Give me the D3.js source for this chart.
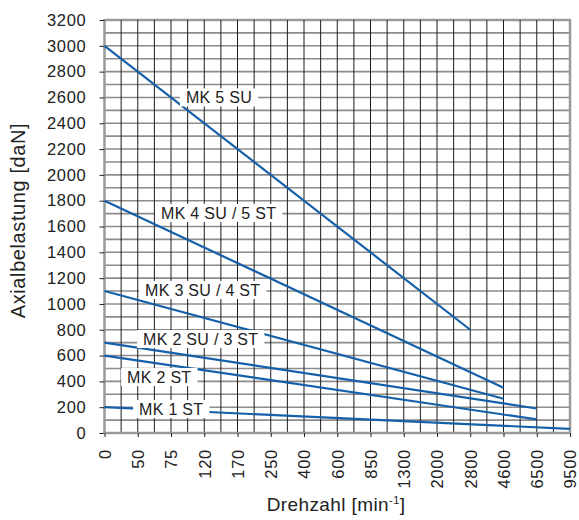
<!DOCTYPE html>
<html>
<head>
<meta charset="utf-8">
<script src="https://cdn.jsdelivr.net/npm/d3@7"></script>
<style>
  html, body { margin: 0; padding: 0; background: #fff; }
  svg { display: block; font-family: "Liberation Sans", Arial, Helvetica, sans-serif; }
</style>
</head>
<body>
<svg id="chart" width="579" height="520"></svg>
<script>
// ---- data ----
const categories = ["0","50","75","120","170","250","400","600","850","1300","2000","2800","4600","6500","9500"];
const yTicks = [0,200,400,600,800,1000,1200,1400,1600,1800,2000,2200,2400,2600,2800,3000,3200];
const seriesNames = ["MK 5 SU","MK 4 SU / 5 ST","MK 3 SU / 4 ST","MK 2 SU / 3 ST","MK 2 ST","MK 1 ST"];
const seriesX = [["0","2800"],["0","4600"],["0","4600"],["0","6500"],["0","6500"],["0","9500"]];
const seriesY = [[3000,800],[1800,350],[1100,265],[700,190],[600,105],[200,32]];
// label anchors (category index, value)
const labelIdx = [2.45,1.70,1.22,1.16,0.68,1.04];
const labelVal = [2600,1705,1108,728,434,186];

// ---- layout ----
const svg = d3.select("#chart");
const X0 = 104.5, X1 = 570, YT = 20, YB = 433;
const x = d3.scalePoint().domain(categories).range([X0, X1]);
const xi = d3.scaleLinear().domain([0, categories.length - 1]).range([X0, X1]);
const y = d3.scaleLinear().domain([0, 3200]).range([YB, YT]);

const grid = svg.append("g");
// horizontal gridlines every 100
grid.selectAll("line.h").data(d3.range(100, 3201, 100)).join("line")
  .attr("x1", X0).attr("x2", X1)
  .attr("y1", d => y(d)).attr("y2", d => y(d))
  .attr("stroke", d => d === 3200 ? "#9a9a9a" : "#8c8c8c")
  .attr("stroke-width", d => d === 3200 ? 2.5 : 1.6);
// vertical gridlines every half category step
grid.selectAll("line.v").data(d3.range(0.5, categories.length - 1, 0.5)).join("line")
  .attr("x1", d => xi(d)).attr("x2", d => xi(d))
  .attr("y1", YT).attr("y2", YB)
  .attr("stroke", "#1c1c1c").attr("stroke-width", 1);
// right border
grid.append("line").attr("x1", X1).attr("x2", X1).attr("y1", YT - 1).attr("y2", YB)
  .attr("stroke", "#9a9a9a").attr("stroke-width", 2.5);

// axes
const yAxis = d3.axisLeft(y).tickValues(yTicks).tickFormat(d3.format("d")).tickSize(5).tickPadding(13);
const gy = svg.append("g").attr("transform", `translate(${X0},0)`).call(yAxis);
gy.select(".domain").attr("stroke", "#9a9a9a").attr("stroke-width", 2.5)
  .attr("d", `M0,${YT - 1}V${YB}`);
gy.selectAll(".tick line").attr("stroke", "#222");
gy.selectAll(".tick text").attr("font-size", 16.5).attr("letter-spacing", 0.7).attr("fill", "#222")
  .attr("font-family", "Liberation Sans, Arial, sans-serif");

const xAxis = d3.axisBottom(x).tickSize(4).tickPadding(0);
const gx = svg.append("g").attr("transform", `translate(0,${YB})`).call(xAxis);
gx.select(".domain").attr("stroke", "#9a9a9a").attr("stroke-width", 2.5)
  .attr("d", `M${X0 - 1},0H${X1 + 1}`);
gx.selectAll(".tick line").attr("stroke", "#222");
gx.selectAll(".tick text")
  .attr("font-size", 16.5).attr("letter-spacing", 0.7).attr("fill", "#222")
  .attr("font-family", "Liberation Sans, Arial, sans-serif")
  .attr("text-anchor", "end")
  .attr("dy", "0.35em")
  .attr("transform", "translate(0,16) rotate(-90)")
  .attr("y", 0).attr("x", 0);

// series lines
const line = d3.line().x(d => x(d[0])).y(d => y(d[1]));
seriesNames.forEach((name, i) => {
  const pts = seriesX[i].map((cx, j) => [cx, seriesY[i][j]]);
  svg.append("path").datum(pts).attr("d", line)
    .attr("fill", "none").attr("stroke", "#1560a8").attr("stroke-width", 2.2);
});

// labels with white boxes
seriesNames.forEach((name, i) => {
  const g = svg.append("g");
  const t = g.append("text")
    .attr("x", xi(labelIdx[i])).attr("y", y(labelVal[i]))
    .attr("dy", "0.36em")
    .attr("font-size", 16).attr("letter-spacing", 0.3).attr("fill", "#222")
    .text(name);
  const b = t.node().getBBox();
  g.insert("rect", "text")
    .attr("x", b.x - 6).attr("y", y(labelVal[i]) - 9)
    .attr("width", b.width + 12).attr("height", 18)
    .attr("fill", "#fff");
});

// axis titles
svg.append("text")
  .attr("transform", `translate(25,${(YT + YB) / 2 - 6}) rotate(-90)`)
  .attr("text-anchor", "middle").attr("font-size", 20).attr("letter-spacing", 0.6).attr("fill", "#222")
  .text("Axialbelastung [daN]");

const xt = svg.append("text")
  .attr("x", 336).attr("y", 511)
  .attr("text-anchor", "middle").attr("font-size", 19).attr("letter-spacing", 0.4).attr("fill", "#222");
xt.append("tspan").text("Drehzahl [min");
xt.append("tspan").attr("font-size", 11).attr("dy", -7).text("-1");
xt.append("tspan").attr("dy", 7).text("]");
</script>
</body>
</html>
